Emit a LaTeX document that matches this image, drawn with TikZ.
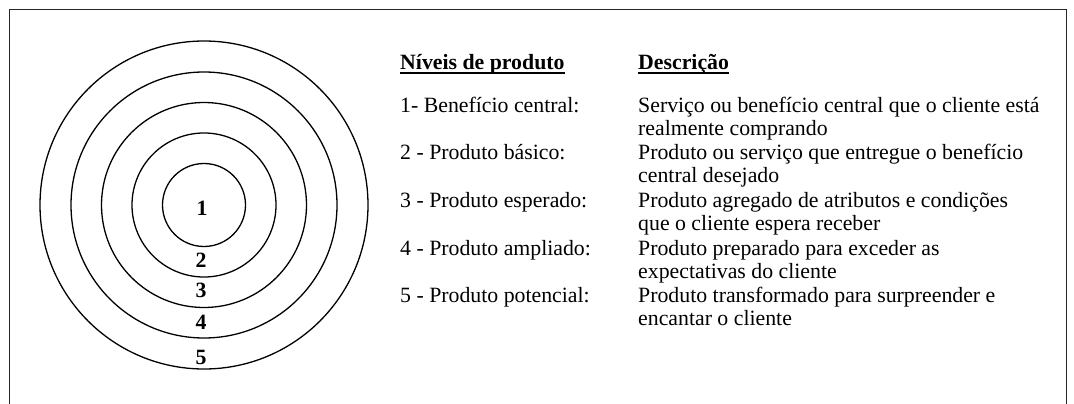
\documentclass[tikz,border=0pt]{standalone}
\usepackage{fontspec}
\setmainfont{Liberation Serif}
\begin{document}
\begin{tikzpicture}[x=1pt,y=-1pt,
  ring/.style={draw=black,line width=1.3pt},
  num/.style={font=\fontsize{21.8}{23.5}\selectfont\bfseries,inner sep=0pt,anchor=base},
  txt/.style={font=\fontsize{21.8}{23.5}\selectfont,inner sep=0pt,anchor=base west,align=left},
  head/.style={font=\fontsize{21.8}{23.5}\selectfont\bfseries,inner sep=0pt,anchor=base west},
  uline/.style={line width=1.4pt}]
\useasboundingbox (0,0) rectangle (1074,404);
\draw[line width=1pt,black!85] (9,404) -- (9,10) -- (1066,10) -- (1066,404);
\coordinate (c) at (204,205);
\node[ring,circle,minimum size=328pt,inner sep=0pt] (r5) at (c) {};
\node[ring,circle,minimum size=266pt,inner sep=0pt] (r4) at (c) {};
\node[ring,circle,minimum size=205pt,inner sep=0pt] (r3) at (c) {};
\node[ring,circle,minimum size=144pt,inner sep=0pt] (r2) at (c) {};
\node[ring,circle,minimum size=83pt,inner sep=0pt] (r1) at (c) {};
\node[num] (n1) at (202,215) {1};
\node[num] (n2) at (201,267) {2};
\node[num] (n3) at (201,297) {3};
\node[num] (n4) at (201,329) {4};
\node[num] (n5) at (201,364) {5};
\node[head] (h1) at (400,70) {Níveis de produto};
\node[head] (h2) at (638,70) {Descrição};
\draw[uline] ([yshift=-3pt]h1.base west) -- ([yshift=-3pt]h1.base east);
\draw[uline] ([yshift=-3pt]h2.base west) -- ([yshift=-3pt]h2.base east);
\node[txt] (l1) at (400,112) {1- Benefício central:};
\node[txt] (l2) at (400,159) {2 - Produto básico:};
\node[txt] (l3) at (400,207) {3 - Produto esperado:};
\node[txt] (l4) at (400,255) {4 - Produto ampliado:};
\node[txt] (l5) at (400,302) {5 - Produto potencial:};
\node[txt] (d1) at (638,135.5) {Serviço ou benefício central que o cliente está\\realmente comprando};
\node[txt] (d2) at (638,182.5) {Produto ou serviço que entregue o benefício\\central desejado};
\node[txt] (d3) at (638,230.5) {Produto agregado de atributos e condições\\que o cliente espera receber};
\node[txt] (d4) at (638,278.5) {Produto preparado para exceder as\\expectativas do cliente};
\node[txt] (d5) at (638,325.5) {Produto transformado para surpreender e\\encantar o cliente};
\end{tikzpicture}
\end{document}
